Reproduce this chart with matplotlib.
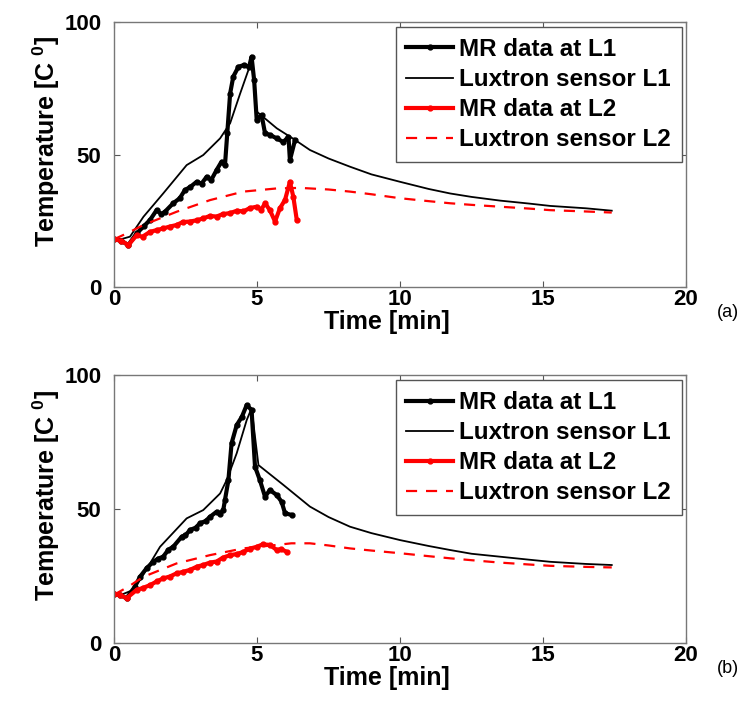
import matplotlib
matplotlib.use("Agg")
import matplotlib.pyplot as plt

plt.rcParams['font.family'] = ['Liberation Sans', 'DejaVu Sans']
plt.rcParams['mathtext.fontset'] = 'custom'
plt.rcParams['mathtext.rm'] = 'Liberation Sans'
plt.rcParams['mathtext.bf'] = 'Liberation Sans:bold'

# ---------------- panel (a) ----------------
t_mr1_a = [0, 0.25, 0.5, 0.79, 1.05, 1.26, 1.49, 1.65, 1.78, 2.07, 2.3, 2.48, 2.66, 2.89, 3.06,
           3.24, 3.4, 3.59, 3.76, 3.88, 3.96, 4.06, 4.17, 4.35, 4.55, 4.72, 4.81, 4.9, 4.99,
           5.16, 5.28, 5.45, 5.69, 5.92, 6.1, 6.15, 6.33]
T_mr1_a = [18, 17.5, 15.8, 20.2, 23, 25.3, 29, 27.5, 28.4, 31.6, 33.5, 36.6, 37.7, 39.7, 39,
           41.6, 40.4, 44.2, 47.3, 46, 58, 73, 79.4, 83.1, 83.8, 83, 86.9, 78, 63,
           64.9, 58, 57.4, 56.1, 54.7, 56.7, 47.9, 55.5]

t_lux1_a = [0, 0.3, 0.56, 1.03, 1.72, 2.54, 3.12, 3.71, 4.06, 4.41, 4.7, 4.81, 4.99, 5.69,
            6.33, 6.85, 7.5, 8.25, 9, 10, 11, 11.75, 12.5, 13.5, 14.5, 15.25, 16.5, 17.4]
T_lux1_a = [18, 18.2, 19, 26.5, 35.3, 46, 49.8, 56.1, 61.8, 73, 81.9, 85.7, 66.2, 59.9,
            55.5, 51.7, 48.5, 45.4, 42.5, 39.7, 37, 35.3, 34, 32.6, 31.5, 30.6, 29.7, 28.8]

t_mr2_a = [0, 0.25, 0.5, 0.79, 1.0, 1.26, 1.5, 1.72, 1.95, 2.19, 2.4, 2.66, 2.9, 3.12, 3.35,
           3.59, 3.8, 4.06, 4.3, 4.52, 4.75, 4.99, 5.15, 5.28, 5.45, 5.63, 5.8, 5.98, 6.15,
           6.27, 6.39]
T_mr2_a = [18, 17.5, 15.8, 19.5, 19, 20.8, 21.5, 22.1, 22.8, 23.4, 24.5, 24.7, 25.2, 25.9, 26.8,
           26.6, 27.5, 27.9, 28.8, 28.5, 29.8, 30.3, 29.2, 31.6, 29, 24.7, 29.7, 32.9, 39.7,
           34, 25.3]

t_lux2_a = [0, 0.5, 1.03, 2.19, 3.36, 4.52, 5.69, 6.5, 6.85, 7.5, 8.25, 9, 10, 11, 11.75,
            12.5, 13.5, 14.5, 15.25, 16.5, 17.4]
T_lux2_a = [18, 20.5, 23.4, 28.4, 32.8, 36, 37.2, 37.4, 37.2, 36.8, 36, 35, 33.5, 32.4, 31.6,
            31, 30.3, 29.6, 29, 28.5, 28.1]

# ---------------- panel (b) ----------------
t_mr1_b = [0, 0.2, 0.44, 0.73, 0.91, 1.14, 1.38, 1.55, 1.72, 1.9, 2.07, 2.37, 2.5, 2.66, 2.85,
           3.01, 3.2, 3.36, 3.59, 3.7, 3.82, 3.88, 4.0, 4.11, 4.29, 4.47, 4.64, 4.81, 4.93,
           5.1, 5.28, 5.45, 5.69, 5.86, 5.98, 6.21]
T_mr1_b = [18.4, 18, 16.7, 21, 24.7, 27.9, 30.4, 31.5, 32.2, 34.8, 35.9, 39.7, 40.2, 42.2, 43,
           44.7, 45.5, 47.1, 49, 48.2, 49.6, 53.4, 60.8, 74.5, 81.3, 84.4, 88.8, 86.9, 65.8,
           60.8, 54.6, 57.1, 55.2, 52.7, 48.4, 47.8]

t_lux1_b = [0, 0.3, 0.6, 0.91, 1.61, 2.54, 3.12, 3.71, 3.94, 4.29, 4.64, 4.81, 5.05, 5.92,
            6.85, 7.5, 8.25, 9, 10, 11, 11.75, 12.5, 13.5, 14.5, 15.25, 16.5, 17.4]
T_lux1_b = [18, 18.2, 19.5, 23.5, 35.9, 46.5, 49.6, 55.8, 60.8, 70.8, 83.2, 87.6, 66.4, 59,
            50.9, 47, 43.4, 41, 38.4, 36.2, 34.7, 33.3, 32.2, 31.1, 30.3, 29.5, 29.1]

t_mr2_b = [0, 0.2, 0.44, 0.79, 1.0, 1.26, 1.5, 1.72, 1.95, 2.19, 2.4, 2.66, 2.9, 3.12, 3.35,
           3.59, 3.8, 4.06, 4.3, 4.52, 4.75, 4.99, 5.2, 5.45, 5.69, 5.85, 6.04]
T_mr2_b = [18.4, 18, 16.7, 19.8, 20.5, 21.6, 23, 24.1, 24.8, 26, 26.5, 27.3, 28.5, 29.1, 30,
           30.4, 31.8, 32.8, 33.2, 34, 35.2, 35.9, 36.8, 36.6, 34.7, 35, 34]

t_lux2_b = [0, 0.5, 1.03, 2.19, 3.36, 4.52, 5.69, 6.2, 6.85, 7.5, 8.25, 9, 10, 11, 11.75,
            12.5, 13.5, 14.5, 15.25, 16.5, 17.4]
T_lux2_b = [18, 21, 24.7, 29.7, 32.8, 35.3, 36.6, 37.2, 37.2, 36.4, 35.3, 34.5, 33.5, 32.4, 31.6,
            30.9, 30, 29.3, 28.8, 28.4, 28.2]

labels = ['MR data at L1', 'Luxtron sensor L1', 'MR data at L2', 'Luxtron sensor L2']
x_ticks = [0, 5, 10, 15, 20]
y_ticks = [0, 50, 100]
panel_tags = ['(a)', '(b)']

fig = plt.figure(figsize=(7.44, 7.15), dpi=100)
ax_a = fig.add_axes([0.1532, 0.5986, 0.769, 0.3706])
ax_b = fig.add_axes([0.1532, 0.1007, 0.769, 0.3748])

panels = [
    (ax_a, t_mr1_a, T_mr1_a, t_lux1_a, T_lux1_a, t_mr2_a, T_mr2_a, t_lux2_a, T_lux2_a),
    (ax_b, t_mr1_b, T_mr1_b, t_lux1_b, T_lux1_b, t_mr2_b, T_mr2_b, t_lux2_b, T_lux2_b),
]

for i, (ax, tm1, Tm1, tl1, Tl1, tm2, Tm2, tl2, Tl2) in enumerate(panels):
    ax.plot(tm1, Tm1, color='black', lw=3.0, marker='.', ms=7, label=labels[0])
    ax.plot(tl1, Tl1, color='black', lw=1.3, label=labels[1])
    ax.plot(tm2, Tm2, color='red', lw=3.0, marker='.', ms=7, label=labels[2])
    ax.plot(tl2, Tl2, color='red', lw=1.6, ls=(0, (5, 4)), label=labels[3])
    ax.set_xlim(0, 20)
    ax.set_ylim(0, 100)
    ax.set_xticks(x_ticks)
    ax.set_yticks(y_ticks)
    ax.tick_params(direction='in', top=True, right=True, length=4, width=0.8,
                   labelsize=16, colors='#555555', labelcolor='black')
    ax.tick_params(axis='y', pad=9)
    ax.tick_params(axis='x', pad=1.5)
    for lab in ax.get_xticklabels() + ax.get_yticklabels():
        lab.set_fontweight('bold')
    for sp in ax.spines.values():
        sp.set_color('#777777')
        sp.set_linewidth(1.0)
    ax.set_xlabel('Time [min]', fontsize=18, fontweight='bold')
    ax.xaxis.set_label_coords(0.477, -0.085)
    ax.set_ylabel(r'Temperature [C $^{\mathbf{0}}$]', fontsize=18, fontweight='bold')
    ax.yaxis.set_label_coords(-0.09, 0.55)
    leg = ax.legend(loc='upper right', bbox_to_anchor=(0.993, 0.981), borderaxespad=0,
                    prop={'weight': 'bold', 'size': 17.5}, frameon=True,
                    fancybox=False, edgecolor='#555555', framealpha=1,
                    handlelength=1.93, handletextpad=0.25, labelspacing=0.29, borderpad=0.45)
    leg.get_frame().set_linewidth(1.0)
    fig.text(0.978, ax.get_position().y0 - 0.036, panel_tags[i], fontsize=13,
             ha='center', va='center')

fig.savefig('out.png', dpi=100)
